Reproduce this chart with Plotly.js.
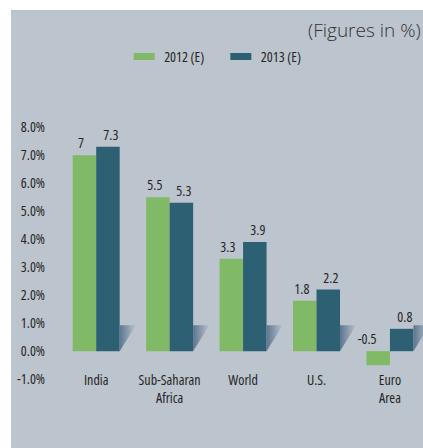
<!DOCTYPE html>
<html><head><meta charset="utf-8">
<script src="https://cdn.plot.ly/plotly-3.0.1.min.js"></script>
<style>
html,body{margin:0;padding:0;background:#fff;width:423px;height:448px;overflow:hidden}
#chart{position:absolute;left:11px;top:10px;width:412px;height:438px}
#chart text{font-stretch:75%}
#chart .annotation[data-index="10"] text{font-stretch:100%}
</style></head><body><div id="chart"></div>
<script>
const categories = ['India', 'Sub-Saharan<br>Africa', 'World', 'U.S.', 'Euro<br>Area'];
const growth2012 = [7, 5.5, 3.3, 1.8, -0.5];
const growth2013 = [7.3, 5.3, 3.9, 2.2, 0.8];
const seriesNames = ['2012 (E)', '2013 (E)'];
const yTicks = [-1, 0, 1, 2, 3, 4, 5, 6, 7, 8];

const GREEN = '#80ba66', BLUE = '#2d6073', BG = '#bcc4cd', TXT = '#262626';
const NARROW = "'Open Sans', sans-serif";
const idx = categories.map((_, i) => i);
const half = 0.16; // half of the group (bargap 0.36 -> each bar 0.32)

const traces = [
  {type: 'bar', name: seriesNames[0], x: idx, y: growth2012, marker: {color: GREEN}, hoverinfo: 'y'},
  {type: 'bar', name: seriesNames[1], x: idx, y: growth2013, marker: {color: BLUE}, hoverinfo: 'y'}
];

// decorative shadow triangles to the right of each 2013 bar
idx.forEach(i => {
  const x0 = i + 2 * half, w = 0.22, h = 0.93;
  traces.push({
    type: 'scatter', mode: 'none', x: [x0, x0, x0 + w, x0], y: [0, h, h, 0],
    fill: 'toself', showlegend: false, hoverinfo: 'skip',
    fillgradient: {type: 'horizontal', colorscale: [[0, '#5d7590'], [1, '#b9c2cc']]}
  });
});

const annotations = [];
growth2012.forEach((v, i) => annotations.push({
  x: i - half, y: Math.max(v, 0), xref: 'x', yref: 'y', text: String(v), showarrow: false,
  yanchor: 'bottom', xshift: v < 0 ? -11 : -3, yshift: 1, font: {family: NARROW, size: 14, color: TXT}
}));
growth2013.forEach((v, i) => annotations.push({
  x: i + half, y: Math.max(v, 0), xref: 'x', yref: 'y', text: String(v), showarrow: false,
  yanchor: 'bottom', xshift: 3, yshift: 1, font: {family: NARROW, size: 14, color: TXT}
}));
annotations.push({
  x: 0.999, y: 1.323, xref: 'paper', yref: 'paper', text: '(Figures in %)', showarrow: false,
  xanchor: 'right', yanchor: 'middle', font: {family: "'Open Sans', sans-serif", size: 19, weight: 300, color: '#333'}
});

const layout = {
  width: 412, height: 438,
  margin: {l: 47, r: 0, t: 106, b: 66},
  paper_bgcolor: BG, plot_bgcolor: BG,
  barmode: 'group', bargap: 0.36, bargroupgap: 0,
  showlegend: true,
  legend: {orientation: 'h', x: 0.447, xanchor: 'center', y: 1.222, yanchor: 'middle',
           font: {family: NARROW, size: 14, color: TXT}, bgcolor: 'rgba(0,0,0,0)', traceorder: 'normal'},
  xaxis: {range: [-0.52, 4.45], tickvals: idx, ticktext: categories, showgrid: false, zeroline: false,
          showline: false, ticks: '', ticklabelstandoff: -12, fixedrange: true,
          tickfont: {family: NARROW, size: 14, color: TXT}},
  yaxis: {range: [-1.1, 8.4], tickvals: yTicks, ticktext: yTicks.map(t => t.toFixed(1) + '%'),
          showgrid: false, zeroline: false, showline: false, ticks: '', ticklabelstandoff: 12,
          fixedrange: true, tickfont: {family: NARROW, size: 14, color: TXT}},
  annotations: annotations,
  font: {family: NARROW, color: TXT}
};

Plotly.newPlot('chart', traces, layout, {displayModeBar: false, staticPlot: true}).then(() => {
  document.querySelectorAll('#chart .legend .legendpoints path').forEach(p => {
    p.setAttribute('d', 'M10.5,3.5H-10.5V-3.5H10.5Z');
  });
});
</script></body></html>
